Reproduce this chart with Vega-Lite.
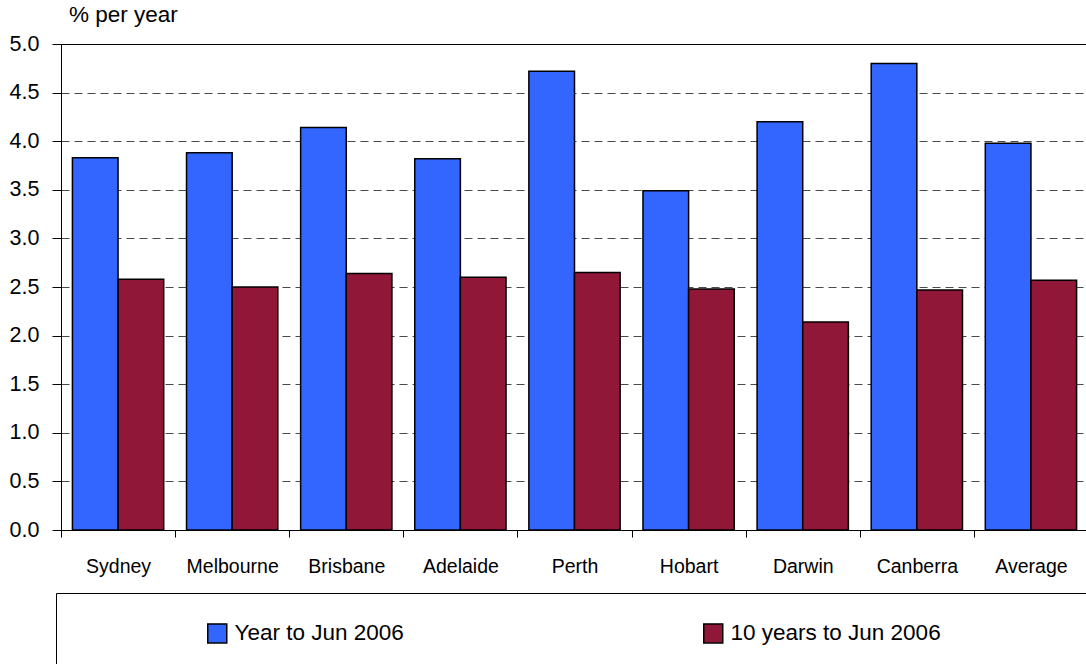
{
  "$schema": "https://vega.github.io/schema/vega-lite/v6.json",
  "width": 1027,
  "height": 486,
  "autosize": {"type": "none"},
  "padding": {"left": 61, "top": 44, "right": 0, "bottom": 134},
  "background": "white",
  "title": {"text": "% per year", "anchor": "start", "frame": "group", "dx": 8, "dy": 26, "offset": 15, "baseline": "alphabetic", "font": "Liberation Sans", "fontSize": 22.5, "fontWeight": "normal", "color": "black"},
  "data": {"values": [
    {"city": "Sydney", "series": "Year to Jun 2006", "value": 3.83},
    {"city": "Sydney", "series": "10 years to Jun 2006", "value": 2.58},
    {"city": "Melbourne", "series": "Year to Jun 2006", "value": 3.88},
    {"city": "Melbourne", "series": "10 years to Jun 2006", "value": 2.50},
    {"city": "Brisbane", "series": "Year to Jun 2006", "value": 4.14},
    {"city": "Brisbane", "series": "10 years to Jun 2006", "value": 2.64},
    {"city": "Adelaide", "series": "Year to Jun 2006", "value": 3.82},
    {"city": "Adelaide", "series": "10 years to Jun 2006", "value": 2.60},
    {"city": "Perth", "series": "Year to Jun 2006", "value": 4.72},
    {"city": "Perth", "series": "10 years to Jun 2006", "value": 2.65},
    {"city": "Hobart", "series": "Year to Jun 2006", "value": 3.49},
    {"city": "Hobart", "series": "10 years to Jun 2006", "value": 2.48},
    {"city": "Darwin", "series": "Year to Jun 2006", "value": 4.20},
    {"city": "Darwin", "series": "10 years to Jun 2006", "value": 2.14},
    {"city": "Canberra", "series": "Year to Jun 2006", "value": 4.80},
    {"city": "Canberra", "series": "10 years to Jun 2006", "value": 2.47},
    {"city": "Average", "series": "Year to Jun 2006", "value": 3.98},
    {"city": "Average", "series": "10 years to Jun 2006", "value": 2.57}
  ]},
  "mark": {"type": "bar", "stroke": "black", "strokeWidth": 1.5},
  "encoding": {
    "x": {
      "field": "city", "type": "nominal",
      "sort": ["Sydney", "Melbourne", "Brisbane", "Adelaide", "Perth", "Hobart", "Darwin", "Canberra", "Average"],
      "scale": {"paddingInner": 0.2, "paddingOuter": 0.1},
      "axis": {"title": null, "labelAngle": 0, "tickOffset": -57.06, "labelOffset": 57.06, "tickSize": 7, "labelPadding": 20, "labelFontSize": 19.5, "labelColor": "black", "tickColor": "black", "domainColor": "black", "grid": false}
    },
    "xOffset": {"field": "series", "type": "nominal", "sort": ["Year to Jun 2006", "10 years to Jun 2006"]},
    "y": {
      "field": "value", "type": "quantitative",
      "scale": {"domain": [0, 5], "nice": false},
      "axis": {
        "title": null,
        "values": [0, 0.5, 1, 1.5, 2, 2.5, 3, 3.5, 4, 4.5, 5],
        "format": ".1f",
        "tickSize": 9, "labelPadding": 13, "labelFontSize": 21.5, "labelColor": "black",
        "tickColor": "black", "domainColor": "black",
        "grid": true,
        "gridDash": [8, 5],
        "gridColor": {"condition": {"test": "datum.value >= 5 || datum.value == 0", "value": "black"}, "value": "#4a4a4a"}
      }
    },
    "color": {
      "field": "series", "type": "nominal",
      "scale": {"domain": ["Year to Jun 2006", "10 years to Jun 2006"], "range": ["#3366ff", "#911739"]},
      "legend": {
        "orient": "none", "legendX": -5, "legendY": 549,
        "direction": "horizontal", "columns": 2, "columnPadding": 296,
        "title": "iiiiiiiiiiiiiiiiiiiiiiiiiiiiiiiiiiiiiiiiiiiiiiiiiiiiiiiiiiiiiiiiiiii",
        "titleOrient": "left", "titleLimit": 110, "titleColor": "transparent", "titlePadding": 12, "titleFontSize": 21,
        "padding": 29, "strokeColor": "black",
        "symbolType": "square", "symbolSize": 361, "symbolStrokeColor": "black",
        "labelFontSize": 22.5, "labelOffset": 6, "labelLimit": 800, "labelColor": "black",
        "labelExpr": "datum.label + (indexof(datum.label, '10') == 0 ? '\u00a0\u00a0\u00a0\u00a0\u00a0\u00a0\u00a0\u00a0\u00a0\u00a0\u00a0\u00a0\u00a0\u00a0\u00a0\u00a0\u00a0\u00a0\u00a0\u00a0\u00a0\u00a0\u00a0\u00a0\u00a0\u00a0\u00a0\u00a0\u00a0\u00a0\u00a0\u00a0\u00a0\u00a0\u00a0\u200b' : '')"
      }
    }
  },
  "config": {
    "view": {"stroke": "black"},
    "font": "Liberation Sans",
    "axis": {"labelFont": "Liberation Sans"}
  }
}
